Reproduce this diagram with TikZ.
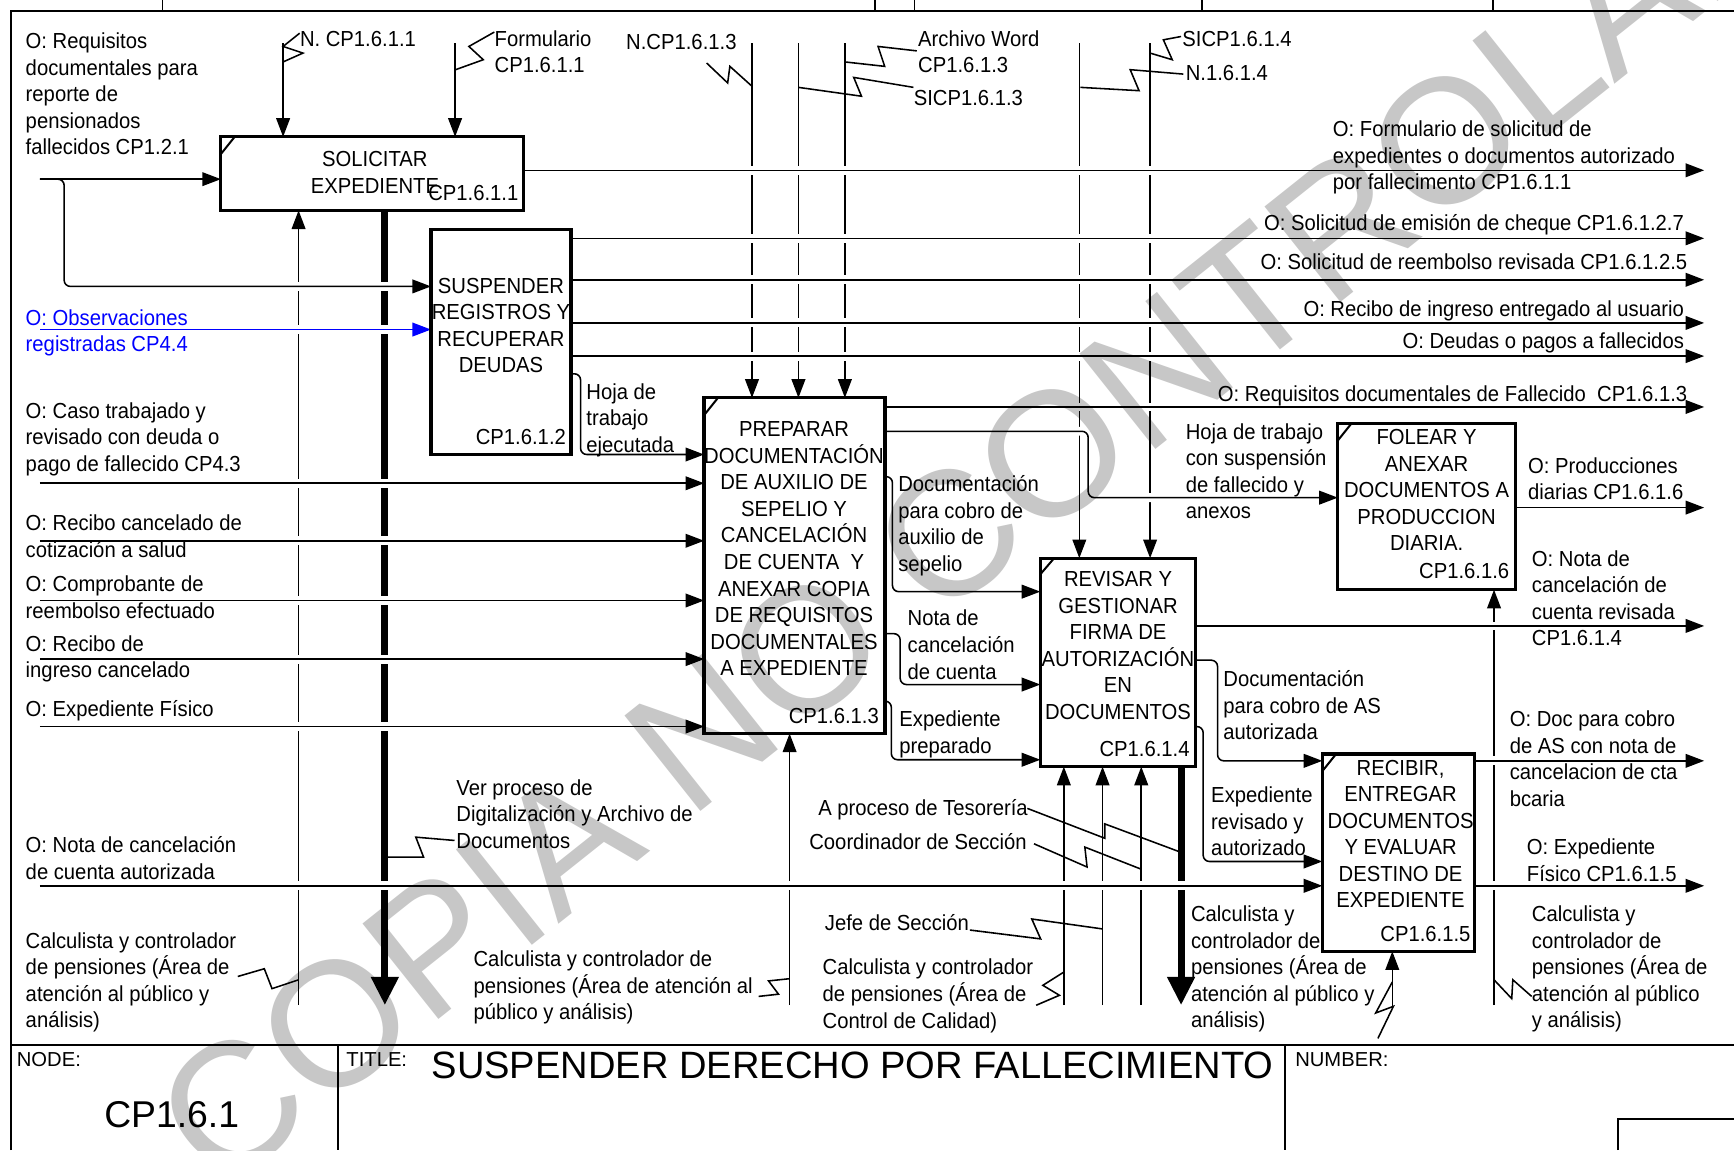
\documentclass[tikz,border=0pt]{standalone}
\usepackage{fontspec}
\setmainfont{Liberation Sans}[FakeStretch=0.93]
\newfontfamily\plainfont{Liberation Sans}
\usetikzlibrary{arrows.meta,fit}
\begin{document}
\begin{tikzpicture}[x=0.025cm,y=-0.025cm,
  every node/.style={inner sep=0pt},
  lbl/.style={font=\fontsize{14pt}{17.07pt}\selectfont, align=left, anchor=base west},
  lblr/.style={font=\fontsize{14pt}{17.07pt}\selectfont, align=right, anchor=base east},
  btxt/.style={font=\fontsize{14pt}{17.07pt}\selectfont, align=center, anchor=base},
  bnum/.style={font=\fontsize{14pt}{17.07pt}\selectfont, anchor=base east},
  thin/.style={line width=1pt},
  arr/.style={-{Triangle[length=0.42cm,width=0.31cm]}},
  bigarr/.style={-{Triangle[length=0.64cm,width=0.59cm]}},
  gap/.style={preaction={draw=white,line width=0.2cm,-}},
  bold/.style={line width=4.5pt},
  frame/.style={line width=1.3pt},
  smalltxt/.style={font=\plainfont\fontsize{13pt}{15pt}\selectfont, anchor=base west},
]
\useasboundingbox (0,0) rectangle (1568,1040);

% ---------- frame ----------
\draw[frame] (10,1040) -- (10,10) -- (1568,10);
\foreach \t in {147,791,827,1087,1350} \draw[thin] (\t,0) -- (\t,10);
\draw[frame] (10,945) -- (1568,945);
\draw[frame] (306,945) -- (306,1040);
\draw[frame] (1162,945) -- (1162,1040);
\draw[thin] (1463,1040) -- (1463,1012) -- (1568,1012);

% ---------- boxes (nodes, outline drawn later) ----------
\path (200,124) coordinate (b1a) (473,190) coordinate (b1b)
      (390,208) coordinate (b2a) (516,411) coordinate (b2b)
      (637,360) coordinate (b3a) (800,663) coordinate (b3b)
      (941,505) coordinate (b4a) (1081,693) coordinate (b4b)
      (1210,383) coordinate (b5a) (1370,533) coordinate (b5b)
      (1196,682) coordinate (b6a) (1333,860) coordinate (b6b);
\node[fit=(b1a)(b1b)] (b1) {};
\node[fit=(b2a)(b2b)] (b2) {};
\node[fit=(b3a)(b3b)] (b3) {};
\node[fit=(b4a)(b4b)] (b4) {};
\node[fit=(b5a)(b5b)] (b5) {};
\node[fit=(b6a)(b6b)] (b6) {};

% ---------- controls (down) ----------
\coordinate (c1) at (256,39);
\coordinate (c2) at (411.5,39);
\coordinate (c3) at (680,39);
\coordinate (c4) at (722,39);
\coordinate (c5) at (764,39);
\coordinate (c6) at (976,39);
\coordinate (c7) at (1040,39);
\draw[thin,arr] (c1) -- (c1 |- b1.north);
\draw[thin,arr] (c2) -- (c2 |- b1.north);
\draw[thin,arr] (c3) -- (c3 |- b3.north);
\draw[thin,arr] (c4) -- (c4 |- b3.north);
\draw[thin,arr] (c5) -- (c5 |- b3.north);
\draw[thin,arr] (c6) -- (c6 |- b4.north);
\draw[thin,arr] (c7) -- (c7 |- b4.north);

% ---------- mechanisms (up) ----------
\coordinate (m1) at (270,909);
\coordinate (m2) at (714,909);
\coordinate (m3) at (962,909);
\coordinate (m4) at (997,909);
\coordinate (m5) at (1032,909);
\coordinate (m6) at (1259,910);
\coordinate (m7) at (1351,909);
\draw[thin,arr] (m1) -- (m1 |- b1.south);
\draw[thin,arr] (m2) -- (m2 |- b3.south);
\draw[thin,arr] (m3) -- (m3 |- b4.south);
\draw[thin,arr] (m4) -- (m4 |- b4.south);
\draw[thin,arr] (m5) -- (m5 |- b4.south);
\draw[thin,arr] (m6) -- (m6 |- b6.south);
\draw[thin,arr] (m7) -- (m7 |- b5.south);

% ---------- bold outputs (down) ----------
\coordinate (o1) at (348,909);
\coordinate (o2) at (1068,909);
\draw[bold,bigarr] (o1 |- b1.south) -- (o1);
\draw[bold,bigarr] (o2 |- b4.south) -- (o2);

% ---------- inputs ----------
\coordinate (i1) at (36,162);
\coordinate (i1b) at (58,259);
\coordinate (i2) at (36,298);
\coordinate (i3) at (36,437);
\coordinate (i4) at (36,489);
\coordinate (i5) at (36,543);
\coordinate (i6) at (36,596);
\coordinate (i7) at (36,657);
\coordinate (i8) at (36,801);
\draw[thin,arr,gap,rounded corners=4pt] (i1) -| (i1b) -- (i1b -| b2.west);
\draw[thin,arr] (i1) -- (i1 -| b1.west);
\draw[thin,gap,draw=blue,{Triangle[length=0.42cm,width=0.31cm]}-{}] (i2 -| b2.west) -- (i2);
\draw[thin,arr,gap] (i3) -- (i3 -| b3.west);
\draw[thin,arr,gap] (i4) -- (i4 -| b3.west);
\draw[thin,arr,gap] (i5) -- (i5 -| b3.west);
\draw[thin,arr,gap] (i6) -- (i6 -| b3.west);
\draw[thin,arr,gap] (i7) -- (i7 -| b3.west);
\draw[thin,arr,gap] (i8) -- (i8 -| b6.west);

% ---------- outputs ----------
\coordinate (e1) at (1541,154);
\coordinate (e2) at (1541,215.5);
\coordinate (e3) at (1541,253);
\coordinate (e4) at (1541,292);
\coordinate (e5) at (1541,322);
\coordinate (e6) at (1541,368);
\coordinate (e7) at (1541,459);
\coordinate (e8) at (1541,566);
\coordinate (e9) at (1541,688);
\coordinate (e10) at (1541,801);
\draw[thin,arr,gap] (b1.east |- e1) -- (e1);
\draw[thin,arr,gap] (b2.east |- e2) -- (e2);
\draw[thin,arr,gap] (b2.east |- e3) -- (e3);
\draw[thin,arr,gap] (b2.east |- e4) -- (e4);
\draw[thin,arr,gap] (b2.east |- e5) -- (e5);
\draw[thin,arr,gap] (b3.east |- e6) -- (e6);
\draw[thin,arr,gap] (b5.east |- e7) -- (e7);
\draw[thin,arr,gap] (b4.east |- e8) -- (e8);
\draw[thin,arr,gap] (b6.east |- e9) -- (e9);
\draw[thin,arr,gap] (b6.east |- e10) -- (e10);

% ---------- internal connectors ----------
\coordinate (k1s) at (516,338);  \coordinate (k1) at (525,411);
\coordinate (k2s) at (800,390);  \coordinate (k2) at (984,450);
\coordinate (k3s) at (800,431);  \coordinate (k3) at (807,535);
\coordinate (k4s) at (800,573);  \coordinate (k4) at (814,619);
\coordinate (k5s) at (800,634);  \coordinate (k5) at (806,687);
\coordinate (k6s) at (1081,597); \coordinate (k6) at (1101,688);
\coordinate (k7s) at (1081,657); \coordinate (k7) at (1088,779);
\draw[thin,arr,gap,rounded corners=4pt] (k1s) -| (k1) -- (k1 -| b3.west);
\draw[thin,arr,gap,rounded corners=4pt] (k2s) -| (k2) -- (k2 -| b5.west);
\draw[thin,arr,gap,rounded corners=4pt] (k3s) -| (k3) -- (k3 -| b4.west);
\draw[thin,arr,gap,rounded corners=4pt] (k4s) -| (k4) -- (k4 -| b4.west);
\draw[thin,arr,gap,rounded corners=4pt] (k5s) -| (k5) -- (k5 -| b4.west);
\draw[thin,arr,gap,rounded corners=4pt] (k6s) -| (k6) -- (k6 -| b6.west);
\draw[thin,arr,gap,rounded corners=4pt] (k7s) -| (k7) -- (k7 -| b6.west);

% ---------- squiggles ----------
\draw[thin] (271,30) -- (256,42) -- (274,48) -- (256,56);
\draw[thin] (447,29) -- (424,42) -- (437,54) -- (412,63);
\draw[thin] (639,57) -- (658,75) -- (660,60) -- (680,78);
\draw[thin] (764,56) -- (800,60) -- (794,42) -- (829,46);
\draw[thin] (722,79) -- (779,87) -- (772,70) -- (826,79);
\draw[thin] (1040,48) -- (1060,54) -- (1052,36) -- (1068,33);
\draw[thin] (977,79) -- (1030,82) -- (1022,63) -- (1070,67);
\draw[thin] (348,775) -- (383,775) -- (376,757) -- (411,760);
\draw[thin] (215,883) -- (239,876) -- (246,894) -- (270,886);
\draw[thin] (686,901) -- (704,899) -- (695,887) -- (714,885);
\draw[thin] (929,731) -- (999,758) -- (999,745) -- (1066,770);
\draw[thin] (935,763) -- (983,784) -- (981,766) -- (1032,786);
\draw[thin] (877,841) -- (941,849) -- (933,831) -- (997,840);
\draw[thin] (962,879) -- (943,891) -- (958,900) -- (937,909);
\draw[thin] (1246,939) -- (1260,910) -- (1244,916) -- (1259,888);
\draw[thin] (1351,886) -- (1367,903) -- (1368,886) -- (1385,901);

% ---------- box outlines on top ----------
\foreach \b in {b1,b2,b3,b4,b5,b6} \draw[line width=2.1pt] (\b.north west) rectangle (\b.south east);
\draw[line width=1.3pt] (200,139) -- (212,124);
\draw[line width=1.3pt] (637,375) -- (649,360);
\draw[line width=1.3pt] (941,519) -- (953,505);
\draw[line width=1.3pt] (1210,398) -- (1222,383);
\draw[line width=1.3pt] (1196,697) -- (1208,682);

% ---------- box texts (y = baseline of last line) ----------
\node[btxt] at (339,175) {SOLICITAR\\EXPEDIENTE};
\node[bnum] at (469,181) {CP1.6.1.1};
\node[btxt] at (453,337) {SUSPENDER\\REGISTROS Y\\RECUPERAR\\DEUDAS};
\node[bnum] at (512,402) {CP1.6.1.2};
\node[btxt] at (718,611) {PREPARAR\\DOCUMENTACIÓN\\DE AUXILIO DE\\SEPELIO Y\\CANCELACIÓN\\DE CUENTA\ \ Y\\ANEXAR COPIA\\DE REQUISITOS\\DOCUMENTALES\\A EXPEDIENTE};
\node[bnum] at (795,654) {CP1.6.1.3};
\node[btxt] at (1011,650.5) {REVISAR Y\\GESTIONAR\\FIRMA DE\\AUTORIZACIÓN\\EN\\DOCUMENTOS};
\node[bnum] at (1076,684) {CP1.6.1.4};
\node[btxt] at (1290,498) {FOLEAR Y\\ANEXAR\\DOCUMENTOS A\\PRODUCCION\\DIARIA.};
\node[bnum] at (1365,523) {CP1.6.1.6};
\node[btxt] at (1266.5,821) {RECIBIR,\\ENTREGAR\\DOCUMENTOS\\Y EVALUAR\\DESTINO DE\\EXPEDIENTE};
\node[bnum] at (1330,851.5) {CP1.6.1.5};

% ---------- labels (y = baseline of last line) ----------
\node[lbl] at (23,140) {O: Requisitos\\documentales para\\reporte de\\pensionados\\fallecidos CP1.2.1};
\node[lbl,text=blue] at (23,318) {O: Observaciones\\registradas CP4.4};
\node[lbl] at (23,426) {O: Caso trabajado y\\revisado con deuda o\\pago de fallecido CP4.3};
\node[lbl] at (23,504) {O: Recibo cancelado de\\cotización a salud};
\node[lbl] at (23,559) {O: Comprobante de\\reembolso efectuado};
\node[lbl] at (23,613) {O: Recibo de\\ingreso cancelado};
\node[lbl] at (23,648) {O: Expediente Físico};
\node[lbl] at (23,795) {O: Nota de cancelación\\de cuenta autorizada};
\node[lbl] at (23,929.5) {Calculista y controlador\\de pensiones (Área de\\atención al público y\\análisis)};
\node[lbl] at (271,42) {N. CP1.6.1.1};
\node[lbl] at (447,66) {Formulario\\CP1.6.1.1};
\node[lbl] at (566,45) {N.CP1.6.1.3};
\node[lbl] at (830,66) {Archivo Word\\CP1.6.1.3};
\node[lbl] at (826,95) {SICP1.6.1.3};
\node[lbl] at (1069,42) {SICP1.6.1.4};
\node[lbl] at (1072,73) {N.1.6.1.4};
\node[lbl] at (1205,171.6) {O: Formulario de solicitud de\\expedientes o documentos autorizado\\por fallecimento CP1.6.1.1};
\node[lblr] at (1523,208) {O: Solicitud de emisión de cheque CP1.6.1.2.7};
\node[lblr] at (1526,244) {O: Solicitud de reembolso revisada CP1.6.1.2.5};
\node[lblr] at (1523,286) {O: Recibo de ingreso entregado al usuario};
\node[lblr] at (1523,315) {O: Deudas o pagos a fallecidos};
\node[lblr] at (1526,363) {O: Requisitos documentales de Fallecido\ \ CP1.6.1.3};
\node[lbl] at (530,409) {Hoja de\\trabajo\\ejecutada};
\node[lbl] at (1072,469) {Hoja de trabajo\\con suspensión\\de fallecido y\\anexos};
\node[lbl] at (1381.5,452) {O: Producciones\\diarias CP1.6.1.6};
\node[lbl] at (1385,584) {O: Nota de\\cancelación de\\cuenta revisada\\CP1.6.1.4};
\node[lbl] at (812,516.6) {Documentación\\para cobro de\\auxilio de\\sepelio};
\node[lbl] at (820.5,614) {Nota de\\cancelación\\de cuenta};
\node[lbl] at (813,681) {Expediente\\preparado};
\node[lbl] at (1106,669) {Documentación\\para cobro de AS\\autorizada};
\node[lbl] at (1095,774) {Expediente\\revisado y\\autorizado};
\node[lbl] at (1365,729) {O: Doc para cobro\\de AS con nota de\\cancelacion de cta\\bcaria};
\node[lbl] at (1380.5,797) {O: Expediente\\Físico CP1.6.1.5};
\node[lbl] at (1385,929.4) {Calculista y\\controlador de\\pensiones (Área de\\atención al público\\y análisis)};
\node[lbl] at (1076.7,929.4) {Calculista y\\controlador de\\pensiones (Área de\\atención al público y\\análisis)};
\node[lbl] at (412.5,767) {Ver proceso de\\Digitalización y Archivo de\\Documentos};
\node[lbl] at (739.7,737) {A proceso de Tesorería};
\node[lbl] at (731.6,768.6) {Coordinador de Sección};
\node[lbl] at (745.7,841) {Jefe de Sección};
\node[lbl] at (743.6,929.6) {Calculista y controlador\\de pensiones (Área de\\Control de Calidad)};
\node[lbl] at (428,922) {Calculista y controlador de\\pensiones (Área de atención al\\público y análisis)};

% ---------- title block ----------
\node[smalltxt] at (15,964) {NODE:};
\node[smalltxt] at (313,964) {TITLE:};
\node[smalltxt] at (1171,964) {NUMBER:};
\node[font=\plainfont\fontsize{24pt}{28pt}\selectfont, anchor=base west] at (94,1020) {CP1.6.1};
\node[font=\plainfont\fontsize{24.5pt}{28pt}\selectfont, anchor=base west] at (390,975) {SUSPENDER DERECHO POR FALLECIMIENTO};

% ---------- watermark ----------
\node[font=\plainfont\fontsize{114pt}{114pt}\selectfont, text=black, text opacity=0.22, rotate=38.5, anchor=base west] at (198,1080) {COPIA NO CONTROLADA};
\end{tikzpicture}
\end{document}
